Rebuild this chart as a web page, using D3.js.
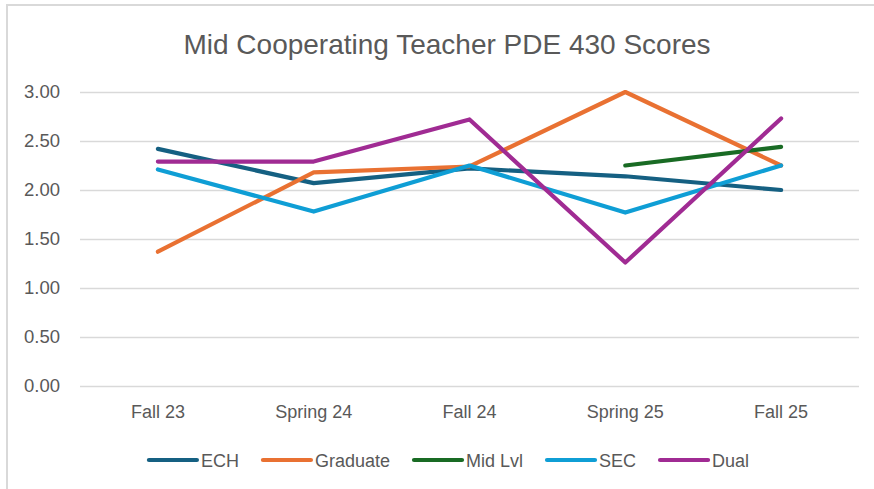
<!DOCTYPE html>
<html>
<head>
<meta charset="utf-8">
<script src="https://cdn.jsdelivr.net/npm/d3@7"></script>
<style>
  body { margin: 0; background: #fff; }
  text { font-family: "Liberation Sans", Arial, sans-serif; fill: #595959; }
</style>
</head>
<body>
<div id="chart"></div>
<script>
// chart data
var categories = ["Fall 23", "Spring 24", "Fall 24", "Spring 25", "Fall 25"];
var seriesNames = ["ECH", "Graduate", "Mid Lvl", "SEC", "Dual"];
var seriesColors = ["#156082", "#E97132", "#196B24", "#0F9ED5", "#A02B93"];
var ech = [2.42, 2.07, 2.22, 2.14, 2.00];
var graduate = [1.37, 2.18, 2.24, 3.00, 2.25];
var midLvl = [null, null, null, 2.25, 2.44];
var sec = [2.21, 1.78, 2.25, 1.77, 2.25];
var dual = [2.29, 2.29, 2.72, 1.26, 2.73];
var yTicks = [0, 0.5, 1, 1.5, 2, 2.5, 3];
var title = "Mid Cooperating Teacher PDE 430 Scores";

var width = 874;
var height = 489;
var plotLeft = 80;
var plotRight = 859;
var plotTop = 92;
var plotBottom = 386;

var svg = d3
  .select("#chart")
  .append("svg")
  .attr("width", width)
  .attr("height", height);

// chart frame (only top and left edges are visible)
svg.append("path")
  .attr("d", "M7," + height + "V5H" + width)
  .attr("fill", "none")
  .attr("stroke", "#d9d9d9")
  .attr("stroke-width", 2);

svg.append("text")
  .attr("x", 447)
  .attr("y", 54)
  .attr("text-anchor", "middle")
  .attr("font-size", 28)
  .text(title);

var xScale = d3.scaleBand()
  .domain(categories)
  .range([plotLeft, plotRight]);

var yScale = d3.scaleLinear()
  .domain([0, 3])
  .range([plotBottom, plotTop]);

// gridlines + y labels
var yAxis = d3.axisLeft(yScale)
  .tickValues(yTicks)
  .tickSize(-(plotRight - plotLeft))
  .tickPadding(20)
  .tickFormat(d3.format(".2f"));

var yG = svg.append("g")
  .attr("transform", "translate(" + plotLeft + ",0)")
  .call(yAxis);
yG.select(".domain").remove();
yG.selectAll(".tick line").attr("stroke", "#d9d9d9").attr("stroke-width", 1.3);
yG.selectAll(".tick text")
  .attr("font-size", 18.5)
  .attr("font-family", null)
  .attr("fill", "#595959");

// x labels
var xAxis = d3.axisBottom(xScale).tickSize(0).tickPadding(19);
var xG = svg.append("g")
  .attr("transform", "translate(0," + plotBottom + ")")
  .call(xAxis);
xG.select(".domain").remove();
xG.selectAll(".tick text")
  .attr("font-size", 18)
  .attr("font-family", null)
  .attr("fill", "#595959");

var allSeries = [ech, graduate, midLvl, sec, dual];

var line = d3.line()
  .defined(function(d) { return d != null; })
  .x(function(d, i) { return xScale(categories[i]) + xScale.bandwidth() / 2; })
  .y(function(d) { return yScale(d); });

svg.selectAll(".series")
  .data(allSeries)
  .enter()
  .append("path")
  .attr("class", "series")
  .attr("fill", "none")
  .attr("stroke", function(d, i) { return seriesColors[i]; })
  .attr("stroke-width", 4.2)
  .attr("stroke-linecap", "round")
  .attr("stroke-linejoin", "round")
  .attr("d", line);

// legend
var legend = svg.append("g");
var swatch = 48;
var itemGap = 24;
var cx = 0;
seriesNames.forEach(function(name, i) {
  var g = legend.append("g").attr("transform", "translate(" + cx + ",0)");
  g.append("line")
    .attr("x1", 0).attr("x2", swatch)
    .attr("y1", 0).attr("y2", 0)
    .attr("stroke", seriesColors[i])
    .attr("stroke-width", 4.2)
    .attr("stroke-linecap", "round");
  var t = g.append("text")
    .attr("x", swatch + 4)
    .attr("y", 6.5)
    .attr("font-size", 18)
    .text(name);
  cx += swatch + 4 + t.node().getComputedTextLength() + itemGap;
});
var legendWidth = cx - itemGap;
legend.attr("transform", "translate(" + (449 - legendWidth / 2) + ",460)");
</script>
</body>
</html>
